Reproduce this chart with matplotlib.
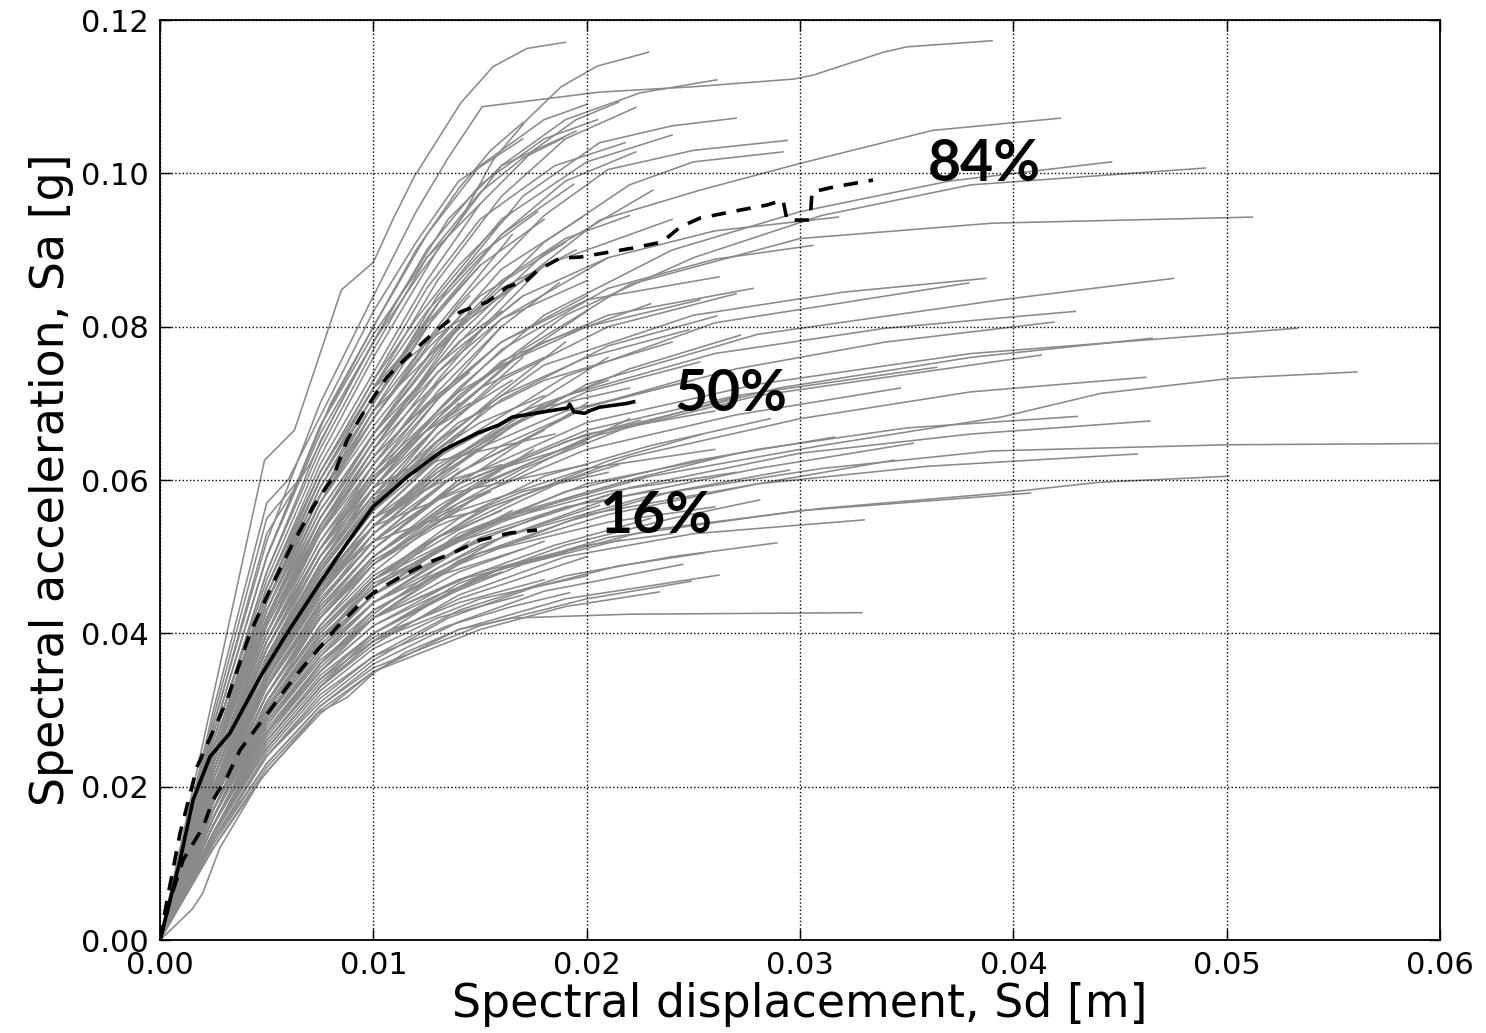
import matplotlib
matplotlib.use("Agg")
import matplotlib.pyplot as plt
from matplotlib.ticker import FormatStrFormatter, MultipleLocator

# capacity curves, [Sd in mm, Sa in milli-g]
CAPACITY_CURVES = [
    [[0, 0], [4.9, 62.6], [6.3, 66.5], [8.5, 84.8], [10.0, 88.4], [10.9, 93.9], [11.9, 99.5], [14.1, 109.2], [15.6, 113.9], [17.2, 116.3], [19.0, 117.1]],
    [[0, 0], [2.5, 27], [5, 50], [7.5, 66], [10, 78], [12.2, 87], [14.1, 94], [15.6, 101.7], [17.2, 107], [18.8, 111.3], [20.5, 114], [22.9, 115.8]],
    [[0, 0], [2.5, 28], [5, 52], [7.5, 70], [10, 84], [12, 95], [13.5, 102], [15.1, 108.7], [20.6, 110.6], [25, 111.3], [29.7, 112.3], [30.6, 112.8], [33.9, 115.8], [35, 116.5], [39, 117.3]],
    [[0, 0], [2.5, 26], [5, 47], [7.5, 63], [10, 76], [13, 90], [16, 101], [19, 107], [22.5, 110.5], [26.1, 112.2]],
    [[0, 0], [2.5, 25], [5, 46], [7.5, 62], [10, 74], [12.5, 86], [15, 96], [17.5, 103], [19.5, 107], [21.5, 109.3]],
    [[0, 0], [2.5, 24], [5, 44], [7.5, 60], [10, 72], [13, 86], [16, 97], [19, 104.5], [22.3, 108.6]],
    [[0, 0], [2.5, 24], [5, 43], [7.5, 58], [10, 70], [13.5, 85], [17, 97], [20.6, 104], [24, 106.2], [27, 107.2]],
    [[0, 0], [2.5, 23], [5, 42], [7.5, 57], [10, 68], [14, 83], [18, 94.5], [21, 100.5], [25, 103], [29.4, 104.3]],
    [[0, 0], [2.5, 22], [5, 40], [7.5, 55], [10, 66], [14, 80], [18, 91], [22, 98.5], [25, 101.5], [29.2, 102.8]],
    [[0, 0], [2.5, 25], [5, 45], [7.5, 61], [10, 73], [12.5, 85], [15, 94], [18.5, 101], [21.8, 104]],
    [[0, 0], [2.5, 23], [5, 42], [7.5, 57], [10, 69], [13, 82], [16, 92], [19, 99], [22.3, 102.8]],
    [[0, 0], [2.5, 27], [5, 50], [7.5, 67], [10, 80], [12, 90], [14, 98], [15.5, 103], [17, 106.6]],
    [[0, 0], [2.5, 26], [5, 48], [7.5, 64], [10, 77], [12.5, 89], [15, 97.5], [17, 102], [18.9, 104.6]],
    [[0, 0], [2.5, 25], [5, 45], [7.5, 60], [10, 72], [12.5, 82], [15, 89.5], [17.7, 95]],
    [[0, 0], [2.5, 24], [5, 44], [7.5, 59], [10, 71], [13, 83], [16, 92], [19.4, 98.6]],
    [[0, 0], [2.5, 22], [5, 41], [7.5, 55], [10, 66], [13, 78], [16, 87.5], [19.8, 94.3]],
    [[0, 0], [2.5, 21], [5, 38], [7.5, 51], [10, 61], [13, 71.5], [16, 80], [18.7, 85.7]],
    [[0, 0], [2.5, 22], [5, 40], [7.5, 54], [10, 65], [14, 79], [18, 89.5], [23.1, 97.8]],
    [[0, 0], [2.5, 21], [5, 39], [7.5, 53], [10, 64], [13, 75], [16.5, 85], [20.6, 93.9], [25.3, 97.8], [30, 101.3], [36.2, 105.6], [42.2, 107.2]],
    [[0, 0], [2.5, 20], [5, 37], [7.5, 50], [10, 60], [14, 72], [18, 81.5], [24, 90], [30, 95], [37, 99], [44.6, 101.5]],
    [[0, 0], [2.5, 20], [5, 36], [7.5, 49], [10, 59], [14, 71], [19, 81.5], [25, 89], [31, 94.5], [38, 98.5], [49, 100.7]],
    [[0, 0], [2.5, 26], [5, 48], [7.5, 65], [10, 78], [12.5, 90], [15, 98.5], [18, 104.5], [20.5, 107]],
    [[0, 0], [2.5, 23], [5, 43], [7.5, 58], [10, 70], [13, 84], [16, 94], [20, 101.5], [24, 105]],
    [[0, 0], [2.5, 20], [5, 36], [7.5, 48], [10, 57], [13, 67], [17, 77], [22, 85.5], [30, 91.5], [39, 93.5], [51.2, 94.3]],
    [[0, 0], [2.5, 21], [5, 38], [7.5, 51], [10, 62], [13, 72.5], [16, 81], [21, 89], [26, 92.5], [31.8, 94.3]],
    [[0, 0], [2.5, 20], [5, 36], [7.5, 49], [10, 59], [13, 69], [16, 77], [21, 85], [26, 88.8], [30.6, 90.6]],
    [[0, 0], [2.5, 18], [5, 33], [7.5, 44], [10, 53], [14, 63], [20, 72.5], [28, 79], [39.4, 83.5], [47.5, 86.3]],
    [[0, 0], [2.5, 19], [5, 35], [7.5, 47], [10, 56], [13, 65], [18, 75], [25, 81.5], [32, 84.5], [38.7, 86.3]],
    [[0, 0], [2.5, 19], [5, 34], [7.5, 46], [10, 55], [13.5, 64], [19, 73.5], [26, 80.5], [37.9, 85.7]],
    [[0, 0], [2.5, 21], [5, 38], [7.5, 51], [10, 61], [13, 70.5], [16, 78], [20, 83.5], [26.2, 86.5]],
    [[0, 0], [2.5, 20], [5, 37], [7.5, 49], [10, 59], [13, 68], [16, 75.5], [21, 81.5], [27.8, 85]],
    [[0, 0], [2.5, 20], [5, 36], [7.5, 48], [10, 57], [13, 66], [16, 73], [21, 80], [27, 84.3]],
    [[0, 0], [2.5, 19], [5, 35], [7.5, 47], [10, 56], [13, 64], [16, 70.5], [21, 77.5], [26.1, 81.4]],
    [[0, 0], [2.5, 19], [5, 34], [7.5, 45], [10, 54], [13, 62], [19, 71], [26, 76.5], [34, 79.8], [42.9, 82]],
    [[0, 0], [2.5, 18], [5, 33], [7.5, 44], [10, 52], [14, 61], [20, 69.5], [27, 74.5], [34, 78], [41.9, 80.6]],
    [[0, 0], [2.5, 18], [5, 32], [7.5, 43], [10, 51], [14, 60], [20, 67.5], [28, 72.5], [38, 76.5], [53.3, 79.8]],
    [[0, 0], [2.5, 17], [5, 31], [7.5, 42], [10, 50], [15, 59.5], [21, 66.5], [29, 72], [38, 76], [46.5, 78.5]],
    [[0, 0], [2.5, 17], [5, 31], [7.5, 42], [10, 50], [14, 58], [20, 65.5], [28, 71], [41.3, 76.3]],
    [[0, 0], [2.5, 16], [5, 29], [7.5, 39], [10, 47], [15, 56], [22, 63], [30, 68], [38, 71.5], [46.2, 73.4]],
    [[0, 0], [2.5, 16], [5, 29], [7.5, 39], [10, 46.5], [16, 55], [23, 60.5], [31, 64.5], [39.4, 68.2], [44.1, 71.3], [50.3, 73.3], [56.1, 74.1]],
    [[0, 0], [2.5, 18], [5, 32], [7.5, 43], [10, 51], [14, 59.5], [20, 66.5], [27, 71], [36.4, 74.7]],
    [[0, 0], [2.5, 17], [5, 31], [7.5, 41], [10, 49], [14, 57], [20, 64], [27, 68.5], [34.7, 72]],
    [[0, 0], [2.5, 21], [5, 38], [7.5, 50], [10, 60], [13, 68.5], [16, 75], [20, 80], [25.3, 83.5]],
    [[0, 0], [2.5, 20], [5, 36], [7.5, 48], [10, 57], [13, 65], [16, 71], [20, 76], [24.8, 79.6]],
    [[0, 0], [2.5, 19], [5, 34], [7.5, 45], [10, 54], [13, 61.5], [17, 68.5], [22, 74.5], [27.2, 78.9]],
    [[0, 0], [2.5, 19], [5, 34], [7.5, 46], [10, 54], [13, 61], [16, 66.5], [20, 71.5], [25.3, 75.4]],
    [[0, 0], [2.5, 18], [5, 33], [7.5, 44], [10, 52], [13, 59], [16, 64.5], [20, 69.5], [24.4, 73]],
    [[0, 0], [2.5, 17], [5, 31], [7.5, 41], [10, 49], [13, 55.5], [17, 61.5], [22, 67], [27.2, 71]],
    [[0, 0], [2.5, 16], [5, 29], [7.5, 38], [10, 45], [14, 53], [20, 59.5], [28, 64], [35, 66.8], [43, 68.3]],
    [[0, 0], [2.5, 15], [5, 28], [7.5, 37], [10, 44], [15, 52.5], [22, 59], [30, 63.5], [38, 66], [46.4, 67.7]],
    [[0, 0], [2.5, 15], [5, 27], [7.5, 36], [10, 43], [16, 52.5], [23, 58], [31, 61.5], [39, 63.8], [50, 64.6], [62, 64.8]],
    [[0, 0], [2.5, 15], [5, 27], [7.5, 35], [10, 42], [14, 49.5], [20, 55.5], [28, 59.5], [36, 61.8], [45.8, 63.4]],
    [[0, 0], [2.5, 14], [5, 25], [7.5, 33], [10, 40], [16, 48.5], [23, 53.5], [31, 56.3], [39.4, 58.3], [44, 59.7], [50.1, 60.5]],
    [[0, 0], [2.5, 14], [5, 26], [7.5, 34], [10, 40], [15, 47.5], [21, 52.5], [30, 56], [40.8, 58.3]],
    [[0, 0], [2.5, 16], [5, 29], [7.5, 38], [10, 45], [14, 52.5], [19, 58.5], [25, 62.5], [31.6, 65.6]],
    [[0, 0], [2.5, 15], [5, 28], [7.5, 37], [10, 44], [15, 51.5], [21, 57.5], [28, 61.5], [35.3, 64.8]],
    [[0, 0], [2.5, 15], [5, 27], [7.5, 36], [10, 43], [15, 50.5], [21, 55.5], [28, 59.5], [34.4, 62.6]],
    [[0, 0], [2.5, 16], [5, 29], [7.5, 38], [10, 45], [13, 51], [17, 56], [22, 60], [26.9, 63.4]],
    [[0, 0], [2.5, 17], [5, 30], [7.5, 40], [10, 47], [12, 51], [15.5, 56.5], [18.5, 59.5], [21.5, 62]],
    [[0, 0], [2.5, 16], [5, 29], [7.5, 38], [10, 45], [12.5, 50], [16, 54.5], [19.5, 58], [22.7, 60.5]],
    [[0, 0], [2.5, 17], [5, 30], [7.5, 40], [10, 47], [14, 55], [18, 60.5], [23, 64.5], [28.6, 68]],
    [[0, 0], [2.5, 18], [5, 32], [7.5, 42], [10, 50], [13, 56.5], [16, 61.5], [19, 65], [22.5, 67.8]],
    [[0, 0], [2.5, 16], [5, 30], [7.5, 39], [10, 46], [13, 52.5], [17, 58], [21, 62.5], [25.3, 65.9]],
    [[0, 0], [2.5, 15], [5, 27], [7.5, 36], [10, 42], [14, 49], [19, 54.5], [24, 58.5], [29.5, 61.3]],
    [[0, 0], [2.5, 14], [5, 25], [7.5, 33], [10, 38.5], [14, 45], [19, 50], [25, 53], [33, 54.8]],
    [[0, 0], [2.5, 13], [5, 24], [7.5, 32], [10, 37], [14, 43], [19, 47.5], [24, 50], [28.9, 51.8]],
    [[0, 0], [2.5, 13], [5, 24], [7.5, 31], [10, 36.5], [13.5, 42], [17.5, 46], [21.5, 48.8], [25.5, 50.5]],
    [[0, 0], [2.5, 13], [5, 23], [7.5, 30.5], [10, 36], [14, 41.5], [18, 45.5], [24.5, 49]],
    [[0, 0], [2.5, 12], [5, 22], [7.5, 29.5], [10, 35], [14, 40.5], [19, 44.5], [26.2, 47.6]],
    [[0, 0], [2.5, 12.5], [5, 23], [7.5, 30.5], [10, 35.5], [15, 41], [20, 44.5], [24.9, 46.8]],
    [[0, 0], [2.5, 12], [5, 22.5], [7.5, 30], [10, 35], [15, 40.5], [19, 43.5], [23.4, 45.4]],
    [[0, 0], [2.5, 13], [5, 24], [7.5, 31.5], [10, 37], [13.5, 41], [16.5, 43.5], [19.2, 45.3]],
    [[0, 0], [1.5, 4], [2.0, 6.1], [2.8, 12], [4.7, 20.9], [7.4, 29.6], [8.8, 31.7], [10, 34.8], [11.5, 37.5], [14, 40.5], [16.5, 42], [22, 42.5], [32.9, 42.7]],
    [[0, 0], [2.5, 15], [5, 27], [7.5, 36], [10, 42.5], [13, 48.5], [16, 52.5], [20.6, 56.7]],
    [[0, 0], [2.5, 14], [5, 25], [7.5, 33], [10, 39], [13, 44.5], [17, 49], [21.6, 52.2]],
    [[0, 0], [2.5, 14], [5, 26], [7.5, 34], [10, 40], [14, 46.5], [19, 51.5], [24, 55], [28.1, 57.4]],
    [[0, 0], [2.5, 24], [5, 44], [7.5, 59], [10, 70], [12.5, 80], [15, 88]],
    [[0, 0], [2.5, 23], [5, 42], [7.5, 57], [10, 68], [13, 80], [16.5, 92]],
    [[0, 0], [2.5, 22], [5, 40], [7.5, 54], [10, 64], [12.5, 74], [14.5, 82]],
    [[0, 0], [2.5, 21], [5, 39], [7.5, 52], [10, 62], [13, 73], [15.5, 81], [18, 88]],
    [[0, 0], [2.5, 21], [5, 38], [7.5, 51], [10, 60], [13, 70.5], [16, 80]],
    [[0, 0], [2.5, 20], [5, 37], [7.5, 49], [10, 58], [13, 67], [16.5, 75.5], [20, 82]],
    [[0, 0], [2.5, 20], [5, 36], [7.5, 48], [10, 57], [13, 66], [17, 76]],
    [[0, 0], [2.5, 20], [5, 37], [7.5, 49], [10, 58], [12, 64], [14, 70]],
    [[0, 0], [2.5, 19], [5, 36], [7.5, 47], [10, 56], [13, 64.5], [16, 71.5], [19, 78]],
    [[0, 0], [2.5, 19], [5, 35], [7.5, 46.5], [10, 55], [13, 63], [15.5, 70]],
    [[0, 0], [2.5, 19], [5, 35], [7.5, 46], [10, 54], [13, 61.5], [17, 69], [21, 76]],
    [[0, 0], [2.5, 18], [5, 34], [7.5, 45], [10, 53], [13, 60], [18, 70]],
    [[0, 0], [2.5, 18], [5, 34], [7.5, 45.5], [10, 54], [13, 60.5], [16, 66]],
    [[0, 0], [2.5, 18], [5, 33], [7.5, 43.5], [10, 51], [14, 59.5], [17, 65], [20, 70]],
    [[0, 0], [2.5, 18], [5, 33], [7.5, 43.5], [10, 51], [12, 55.5], [14, 60]],
    [[0, 0], [2.5, 17], [5, 32], [7.5, 42.5], [10, 50], [13, 56], [17.5, 64]],
    [[0, 0], [2.5, 17], [5, 32], [7.5, 42], [10, 49], [14, 56.5], [18, 62.5], [22, 68]],
    [[0, 0], [2.5, 17], [5, 31], [7.5, 41], [10, 48], [12.5, 53.5], [15, 58]],
    [[0, 0], [2.5, 16], [5, 31], [7.5, 40.5], [10, 47], [14, 53.5], [19, 60]],
    [[0, 0], [2.5, 16], [5, 30], [7.5, 39.5], [10, 46], [13, 51], [16.5, 56]],
    [[0, 0], [2.5, 16], [5, 30], [7.5, 39], [10, 45], [14, 51], [18, 55.5], [21, 58]],
    [[0, 0], [2.5, 15], [5, 29], [7.5, 38], [10, 44], [12.5, 48.5], [14.5, 52]],
    [[0, 0], [2.5, 15], [5, 28], [7.5, 36.5], [10, 42], [14, 48], [18, 52]],
    [[0, 0], [2.5, 14], [5, 27], [7.5, 35], [10, 41], [14, 47], [18.5, 51.5], [23, 55]],
    [[0, 0], [2.5, 14], [5, 26], [7.5, 34.5], [10, 40], [13, 44.5], [15.5, 48]],
    [[0, 0], [2.5, 14], [5, 26], [7.5, 34], [10, 39], [14, 44.5], [20, 50]],
    [[0, 0], [2.5, 22], [5, 40], [7.5, 54], [10, 64], [12, 70], [13.5, 74]],
    [[0, 0], [2.5, 22], [5, 40], [7.5, 53], [10, 63], [13, 74], [15, 79.5], [17, 84]],
    [[0, 0], [2.5, 23], [5, 42], [7.5, 56], [10, 66], [13, 77], [16, 85], [19.5, 90]],
    [[0, 0], [2.5, 27], [5, 50], [7.5, 67], [10, 79], [12.5, 89], [15, 96]],
    [[0, 0], [2.5, 25], [5, 46], [7.5, 61], [10, 72], [12.5, 80]],
    [[0, 0], [2.5, 19], [5, 35], [7.5, 46.5], [10, 55], [13, 59.5], [16, 62]],
    [[0, 0], [2.5, 20], [5, 38], [7.5, 50], [10, 58], [13, 62.5], [18.5, 66]],
    [[0, 0], [2.5, 19], [5, 36], [7.5, 47], [10, 54], [14, 58.5], [20, 62]],
    [[0, 0], [2.5, 20], [5, 37], [7.5, 46.5], [10, 52], [12.5, 54.5], [15, 56]],
    [[0, 0], [2.5, 21], [5, 39], [7.5, 51], [10, 59], [14, 65], [18, 69.5], [22, 72]],
    [[0, 0], [2.5, 24], [5, 45], [7.5, 60], [10, 72], [13, 79], [17, 86]],
    [[0, 0], [2.5, 23], [5, 44], [7.5, 58], [10, 69], [14, 80], [18, 88], [24, 94]],
    [[0, 0], [2.5, 29], [5, 55], [6.5, 60], [8, 70], [10, 80], [12.5, 92], [15, 101], [18, 107], [20, 109]],
    [[0, 0], [2.5, 28], [5, 53], [7, 62], [9, 73], [11, 83], [13.5, 94], [16, 101], [19.5, 105.5]],
    [[0, 0], [2.5, 30], [5, 57], [6, 60], [8, 71], [10, 82], [12, 91], [14, 99], [17, 104.5]],
    [[0, 0], [2.5, 24], [5, 44], [7.5, 58], [10, 68], [12.5, 77], [15, 84], [19, 91]],
    [[0, 0], [2.5, 23], [5, 42], [7.5, 55], [10, 65], [13, 74], [16, 81], [20, 86]],
    [[0, 0], [2.5, 22], [5, 41], [7.5, 54], [10, 63], [12, 68.5], [14.5, 74]],
    [[0, 0], [2.5, 21], [5, 39], [7.5, 51], [10, 60], [12.5, 66.5], [15, 72], [18, 76]],
    [[0, 0], [2.5, 21], [5, 38], [7.5, 50], [10, 59], [13, 67], [16.5, 73]],
    [[0, 0], [2.5, 20], [5, 37], [7.5, 48.5], [10, 57], [12, 62], [14, 66]],
    [[0, 0], [2.5, 20], [5, 36], [7.5, 47.5], [10, 56], [13, 63], [17, 69], [21, 73]],
    [[0, 0], [2.5, 19], [5, 35], [7.5, 46], [10, 54], [12.5, 59.5], [15, 64]],
    [[0, 0], [2.5, 19], [5, 35], [7.5, 45.5], [10, 53], [14, 61], [18, 66.5]],
    [[0, 0], [2.5, 18], [5, 34], [7.5, 44.5], [10, 52], [13, 57.5], [16, 61.5], [20, 65]],
    [[0, 0], [2.5, 18], [5, 33], [7.5, 43], [10, 50], [12.5, 54.5], [15.5, 58.5]],
    [[0, 0], [2.5, 17], [5, 32], [7.5, 42], [10, 49], [13, 54], [17, 58.5], [21, 61]],
    [[0, 0], [2.5, 17], [5, 31], [7.5, 40.5], [10, 47.5], [13, 52.5], [16, 56]],
    [[0, 0], [2.5, 16], [5, 30], [7.5, 39.5], [10, 46], [14, 52], [19, 56.5], [23, 58.5]],
    [[0, 0], [2.5, 16], [5, 29.5], [7.5, 38.5], [10, 45], [12.5, 49], [15, 52]],
    [[0, 0], [2.5, 15], [5, 28.5], [7.5, 37], [10, 43], [13, 47.5], [17, 51]],
    [[0, 0], [2.5, 15], [5, 27.5], [7.5, 36], [10, 42], [14, 47], [19, 50.5]],
    [[0, 0], [2.5, 14], [5, 26.5], [7.5, 35], [10, 41], [13, 45], [16, 48]],
    [[0, 0], [2.5, 14], [5, 25.5], [7.5, 33.5], [10, 39.5], [14, 44], [18, 47]],
    [[0, 0], [2.5, 13], [5, 24.5], [7.5, 32.5], [10, 38], [13, 42], [17, 45]],
    [[0, 0], [2.5, 25], [5, 46], [7.5, 61], [10, 73], [12, 81], [14, 88], [16.5, 95]],
    [[0, 0], [2.5, 24], [5, 45], [7.5, 60], [10, 71], [12.5, 80.5], [15, 88], [18, 94]],
    [[0, 0], [2.5, 23], [5, 43], [7.5, 57], [10, 67], [13, 77.5], [16, 86], [19, 91.5], [22, 94.5]],
    [[0, 0], [2.5, 22], [5, 41], [7.5, 55], [10, 65], [13, 75], [17, 84], [21, 89]],
    [[0, 0], [2.5, 22], [5, 40], [7.5, 53], [10, 62], [13, 71], [16, 78], [20, 84]],
    [[0, 0], [2.5, 21], [5, 39], [7.5, 52], [10, 61], [14, 71.5], [18, 78], [23, 83]],
    [[0, 0], [2.5, 20], [5, 37], [7.5, 49], [10, 58], [14, 67.5], [18, 73], [24, 78]],
    [[0, 0], [2.5, 19], [5, 35], [7.5, 46.5], [10, 55], [14, 63], [19, 69], [25, 73]],
    [[0, 0], [2.5, 18], [5, 33.5], [7.5, 44], [10, 52], [14, 59.5], [20, 66], [26, 69]],
    [[0, 0], [2.5, 17], [5, 32], [7.5, 42], [10, 49.5], [14, 56], [20, 61.5], [26, 64]],
    [[0, 0], [2.5, 16], [5, 30.5], [7.5, 40], [10, 47], [15, 54], [21, 58.5], [27, 61]],
    [[0, 0], [2.5, 15], [5, 28.5], [7.5, 37.5], [10, 44], [15, 50.5], [21, 54.5], [26, 56.5]],
    [[0, 0], [2.5, 14], [5, 27], [7.5, 35.5], [10, 42], [15, 48], [20, 51.5], [24, 53]],
    [[0, 0], [2.5, 13.5], [5, 25], [7.5, 33], [10, 39], [15, 44.5], [20, 47.5]],
    [[0, 0], [2.5, 23], [5, 43], [7.5, 58], [10, 69], [12.5, 78], [14.5, 84]],
    [[0, 0], [2.5, 22], [5, 41.5], [7.5, 56], [10, 66], [12, 72], [14, 78], [16, 82]],
    [[0, 0], [2.5, 21], [5, 40], [7.5, 53.5], [10, 63], [12.5, 70], [15, 75.5]],
    [[0, 0], [2.5, 20], [5, 38], [7.5, 51], [10, 60.5], [12, 65.5], [14.5, 70]],
    [[0, 0], [2.5, 19.5], [5, 36.5], [7.5, 48.5], [10, 57.5], [12.5, 63], [15, 67.5], [18, 71]],
    [[0, 0], [2.5, 18.5], [5, 34.5], [7.5, 45.5], [10, 54], [12, 58], [14, 61.5]],
]

# fractile curves, Sd [m] and Sa [g]
P84_SD = [0, 0.00033, 0.00094, 0.00173, 0.00314, 0.00422, 0.00530, 0.00623, 0.00717, 0.00811,
          0.00877, 0.00952, 0.01064, 0.01158, 0.01280, 0.01406, 0.01533, 0.01627, 0.01720,
          0.01772, 0.01875, 0.01969, 0.02217, 0.02353, 0.02438, 0.02531, 0.02719, 0.02845,
          0.02920, 0.02939, 0.03047, 0.03056, 0.03155, 0.03342]
P84_SA = [0, 0.00522, 0.01396, 0.02256, 0.03130, 0.04004, 0.04656, 0.05178, 0.05648, 0.06039,
          0.06522, 0.06874, 0.07343, 0.07604, 0.07917, 0.08191, 0.08322, 0.08517, 0.08608,
          0.08739, 0.08895, 0.08908, 0.09026, 0.09104, 0.09300, 0.09417, 0.09521, 0.09587,
          0.09652, 0.09391, 0.09391, 0.09756, 0.09821, 0.09913]

P50_SD = [0, 0.00094, 0.00155, 0.00234, 0.00328, 0.00469, 0.00595, 0.00750, 0.00877, 0.00998,
          0.01158, 0.01327, 0.01486, 0.0159, 0.0165, 0.0180, 0.0191, 0.0192, 0.0194, 0.0199,
          0.0202, 0.0206, 0.0219, 0.0222]
P50_SA = [0, 0.0104, 0.0183, 0.0239, 0.0270, 0.0343, 0.0400, 0.0466, 0.0518, 0.0565,
          0.0604, 0.0639, 0.0661, 0.0672, 0.0682, 0.0689, 0.0694, 0.0699, 0.0689, 0.0687,
          0.0691, 0.0695, 0.0700, 0.0702]

P16_SD = [0, 0.00047, 0.00108, 0.00202, 0.00248, 0.00314, 0.00375, 0.00455, 0.00516, 0.00595,
          0.00670, 0.00750, 0.00830, 0.00923, 0.00998, 0.01125, 0.01252, 0.01373, 0.01500,
          0.01641, 0.01767]
P16_SA = [0, 0.00522, 0.01043, 0.01474, 0.01826, 0.02126, 0.02478, 0.02778, 0.03000, 0.03300,
          0.03561, 0.03822, 0.04083, 0.04343, 0.04526, 0.04735, 0.04917, 0.05048, 0.05217,
          0.05309, 0.05348]

LABELS = ["84%", "50%", "16%"]
LABEL_SD = [0.0360, 0.0241, 0.0206]
LABEL_SA = [0.0990, 0.0690, 0.0531]

fig = plt.figure(figsize=(14.86, 10.33), dpi=100)
ax = fig.add_axes([0.1077, 0.0900, 0.8614, 0.8906])

for curve in CAPACITY_CURVES:
    sd = [p[0] / 1000.0 for p in curve]
    sa = [p[1] / 1000.0 for p in curve]
    ax.plot(sd, sa, color='0.54', lw=1.15, zorder=2)

ax.plot(P84_SD, P84_SA, color='k', lw=2.6, ls=(0, (4, 3)), zorder=4)
ax.plot(P50_SD, P50_SA, color='k', lw=2.6, zorder=4)
ax.plot(P16_SD, P16_SA, color='k', lw=2.6, ls=(0, (4, 3)), zorder=4)

for txt, x, y in zip(LABELS, LABEL_SD, LABEL_SA):
    ax.text(x, y, txt, fontsize=41, fontweight='bold', family=['Lato', 'DejaVu Sans'],
            ha='left', va='baseline', zorder=5)

ax.set_xlim(0, 0.06)
ax.set_ylim(0, 0.12)
ax.xaxis.set_major_locator(MultipleLocator(0.01))
ax.yaxis.set_major_locator(MultipleLocator(0.02))
ax.xaxis.set_major_formatter(FormatStrFormatter('%.2f'))
ax.yaxis.set_major_formatter(FormatStrFormatter('%.2f'))
ax.grid(True, color='k', ls=':', lw=1.0)
ax.set_axisbelow(False)
ax.tick_params(direction='in', length=8, width=1.0, labelsize=22, pad=8,
               top=True, right=True)
for sp in ax.spines.values():
    sp.set_linewidth(1.3)

ax.set_xlabel('Spectral displacement, Sd [m]', fontsize=33, labelpad=1)
ax.set_ylabel('Spectral acceleration, Sa [g]', fontsize=33, labelpad=5)

fig.savefig('out.png', dpi=100)
